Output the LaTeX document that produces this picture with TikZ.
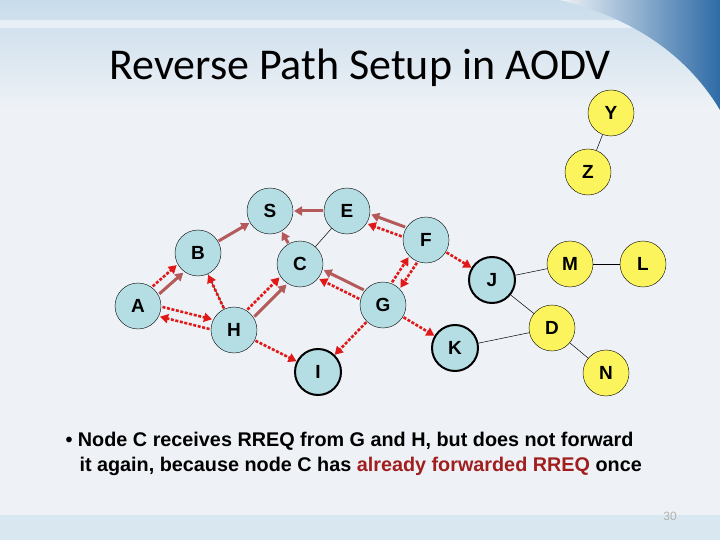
\documentclass[tikz,border=0pt]{standalone}
\usepackage{fontspec}
\setmainfont{Liberation Sans}
\newfontfamily\titlefont{Carlito}
\usetikzlibrary{calc,arrows.meta}
\definecolor{nblue}{HTML}{B4DDE4}
\definecolor{nyel}{HTML}{FCF45C}
\definecolor{sarrc}{HTML}{B55A5A}
\definecolor{darr}{HTML}{E01818}
\definecolor{bg}{HTML}{EEF2F6}
\definecolor{topbg}{HTML}{C9DCEB}
\definecolor{swoosh}{HTML}{2E6BA6}
\definecolor{redtxt}{HTML}{A01E1E}
\tikzset{
 nd/.style={circle,draw=black,fill=nblue,minimum size=46pt,inner sep=0pt,font=\bfseries\fontsize{19}{19}\selectfont},
 ndy/.style={nd,fill=nyel},
 thick3/.style={line width=2pt},
 sarr/.style={draw=sarrc,line width=3pt,-{Triangle[length=8pt,width=9pt]},shorten >=24pt,shorten <=24pt},
 darrow/.style={draw=darr,line width=2.6pt,dash pattern=on 3pt off 1.6pt,-{Triangle[length=8pt,width=9pt]},shorten >=24pt,shorten <=24pt},
 thin1/.style={draw=black,line width=0.5pt},
 txt/.style={anchor=west,font=\bfseries\fontsize{19.8}{20}\selectfont},
}
\newcommand\myarr[4]{\draw[#1] ($(#2)!#4!90:(#3)$) -- ($(#3)!#4!-90:(#2)$);}
\begin{document}
\begin{tikzpicture}[x=1pt,y=-1pt]
\useasboundingbox (0,0) rectangle (720,540);
\fill[bg] (0,0) rectangle (720,540);
\shade[top color=topbg,bottom color=bg] (0,0) rectangle (720,110);
\fill[white,opacity=0.5] (0,20) rectangle (720,28);
\shade[left color=bg,right color=swoosh] (560,0) .. controls (640,20) and (690,60) .. (720,110) -- (720,0) -- cycle;
\fill[topbg!70!white] (0,515) rectangle (720,540);
\node[font=\titlefont\fontsize{44}{44}\selectfont] (title) at (360,68) {Reverse Path Setup in AODV};
% nodes
\node[nd] (S) at (270,211) {S};
\node[nd] (E) at (347,211) {E};
\node[nd] (B) at (198,253) {B};
\node[nd] (C) at (300,264) {C};
\node[nd] (F) at (426,240) {F};
\node[nd] (A) at (138,306) {A};
\node[nd] (H) at (234,330) {H};
\node[nd] (G) at (383,305) {G};
\node[nd,thick3] (I) at (318,372) {I};
\node[nd,thick3] (K) at (455,348) {K};
\node[nd,thick3] (J) at (492,280) {J};
\node[ndy] (M) at (570,264) {M};
\node[ndy] (L) at (643,264) {L};
\node[ndy] (D) at (552,328) {D};
\node[ndy] (N) at (606,373) {N};
\node[ndy] (Y) at (611,113) {Y};
\node[ndy] (Z) at (588,172) {Z};
% thin links
\draw[thin1] (E) -- (C);
\draw[thin1] (B) -- (H);
\draw[thin1] (J) -- (M);
\draw[thin1] (M) -- (L);
\draw[thin1] (J) -- (D);
\draw[thin1] (K) -- (D);
\draw[thin1] (D) -- (N);
\draw[thin1] (Y) -- (Z);
% solid reverse path arrows
\myarr{sarr}{E}{S}{0pt}
\myarr{sarr}{B}{S}{0pt}
\myarr{sarr}{C}{S}{0pt}
\myarr{sarr}{A}{B}{-5pt}
\myarr{sarr}{H}{C}{-5pt}
\myarr{sarr}{G}{C}{-5pt}
\myarr{sarr}{F}{E}{-5pt}
% dashed RREQ arrows
\myarr{darrow}{A}{B}{5pt}
\myarr{darrow}{H}{C}{5pt}
\myarr{darrow}{G}{C}{5pt}
\myarr{darrow}{F}{E}{5pt}
\myarr{darrow}{F}{G}{5pt}
\myarr{darrow}{G}{F}{5pt}
\myarr{darrow}{F}{J}{0pt}
\myarr{darrow}{G}{K}{0pt}
\myarr{darrow}{G}{I}{0pt}
\myarr{darrow}{H}{I}{0pt}
\myarr{darrow}{H}{A}{5pt}
\myarr{darrow}{A}{H}{5pt}
\myarr{darrow}{H}{B}{0pt}
% text
\node[txt] (t1) at (62,441) {\textbullet\ Node C receives RREQ from G and H, but does not forward};
\node[txt] (t2) at (76,466) {it again, because node C has \textcolor{redtxt}{already forwarded RREQ} once};
\node[font=\fontsize{12}{12}\selectfont,text=gray!60] (pg) at (670,516) {30};
\end{tikzpicture}
\end{document}
